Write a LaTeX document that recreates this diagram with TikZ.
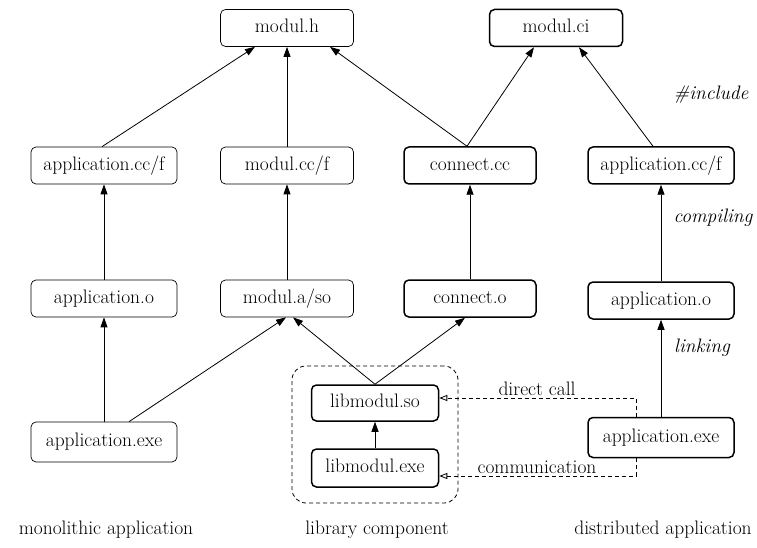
\documentclass[tikz,border=0pt]{standalone}
\usetikzlibrary{arrows.meta,calc}
\newcommand\fsz{\fontsize{19.5}{23}\selectfont}
\tikzset{
  box/.style={draw, rounded corners=5pt, line width=0.7pt, minimum height=37pt, inner sep=0pt, font=\fsz, text height=13pt, text depth=3.5pt},
  tbox/.style={box, line width=1.5pt},
  arr/.style={-{Triangle[length=10pt,width=7pt]}, line width=0.8pt},
  oarr/.style={-{Triangle[open,length=8pt,width=6pt]}, line width=0.8pt, dash pattern=on 4pt off 3pt},
  lbl/.style={font=\fsz, inner sep=0pt},
  ilbl/.style={font=\fsz\itshape, inner sep=0pt}
}
\begin{document}
\begin{tikzpicture}[x=1pt,y=-1pt]
\useasboundingbox (0,0) rectangle (757,548);
% top row
\node[box, minimum width=133pt] (modh) at (287,28) {modul.h};
\node[tbox, minimum width=133pt] (modci) at (556,28) {modul.ci};
% row 2
\node[box, minimum width=146pt] (appccL) at (104,165.5) {application.cc/f};
\node[box, minimum width=133pt] (modcc) at (287,165.5) {modul.cc/f};
\node[tbox, minimum width=132pt] (concc) at (470,165.5) {connect.cc};
\node[tbox, minimum width=146pt] (appccR) at (661,165.5) {application.cc/f};
% row 3
\node[box, minimum width=146pt] (appoL) at (104,298.5) {application.o};
\node[box, minimum width=133pt] (moda) at (287,298.5) {modul.a/so};
\node[tbox, minimum width=132pt] (cono) at (470,298.5) {connect.o};
\node[tbox, minimum width=146pt] (appoR) at (661,300.5) {application.o};
% row 4
\node[box, minimum width=146pt, minimum height=40pt] (appexeL) at (104,442) {application.exe};
\node[tbox, minimum width=146pt, minimum height=40pt] (appexeR) at (661,437.5) {application.exe};
\node[tbox, minimum width=127pt, minimum height=36pt] (libso) at (375,403) {libmodul.so};
\node[tbox, minimum width=127pt, minimum height=38pt] (libexe) at (375,468) {libmodul.exe};
% dashed group
\node[draw, rounded corners=14pt, line width=0.8pt, dash pattern=on 4pt off 3pt, minimum width=166pt, minimum height=137pt, inner sep=0pt] (grp) at (375,434.5) {};
% arrows
\draw[arr] ([xshift=-2pt]appccL.north) -- ([xshift=-32pt]modh.south);
\draw[arr] (modcc.north) -- (modh.south);
\draw[arr] ([xshift=-3pt]concc.north) -- ([xshift=43pt]modh.south);
\draw[arr] ([xshift=-3pt]concc.north) -- ([xshift=-22pt]modci.south);
\draw[arr] ([xshift=-8pt]appccR.north) -- ([xshift=23pt]modci.south);
\draw[arr] (appoL.north) -- (appccL.south);
\draw[arr] (moda.north) -- (modcc.south);
\draw[arr] (cono.north) -- (concc.south);
\draw[arr] (appoR.north) -- (appccR.south);
\draw[arr] (appexeL.north) -- (appoL.south);
\draw[arr] ([xshift=25pt]appexeL.north) -- ([xshift=-1pt]moda.south);
\draw[arr] (libso.north) -- ([xshift=6pt]moda.south);
\draw[arr] (libso.north) -- ([xshift=-5pt]cono.south);
\draw[arr] (appexeR.north) -- (appoR.south);
\draw[arr] (libexe.north) -- (libso.south);
% dashed connectors
\draw[oarr] ([xshift=-25pt]appexeR.north) |- ([yshift=5pt]libso.east);
\draw[oarr] ([xshift=-25pt]appexeR.south) |- ([yshift=-8pt]libexe.east);
% labels
\node[lbl, anchor=base] (ldc) at (537,395) {direct call};
\node[lbl, anchor=base] (lcom) at (537,473) {communication};
\node[ilbl] (linc) at (711,95) {\#include};
\node[ilbl] (lcomp) at (713,218) {compiling};
\node[ilbl] (llink) at (702,348) {linking};
\node[lbl, anchor=base] (lmono) at (106,534) {monolithic application};
\node[lbl, anchor=base] (llib) at (377,534) {library component};
\node[lbl, anchor=base] (ldist) at (663,534) {distributed application};
\end{tikzpicture}
\end{document}
